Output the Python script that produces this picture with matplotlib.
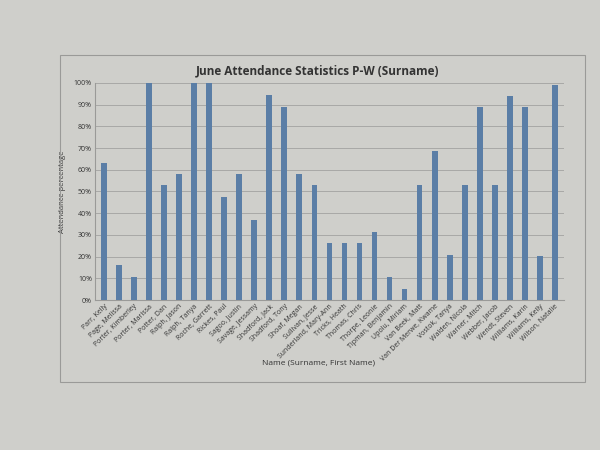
import matplotlib
matplotlib.use("Agg")
import matplotlib.pyplot as plt
from matplotlib.patches import Rectangle

names = ["Parr, Kelly", "Page, Melissa", "Porter, Kimberley", "Porter, Marissa",
         "Potter, Dan", "Ralph, Jason", "Ralph, Tanya", "Roche, Garrett",
         "Rickes, Paul", "Sagoo, Justin", "Savage, Jessamy", "Shadford, Jack",
         "Shadford, Tony", "Shoaf, Megan", "Sullivan, Jesse", "Sunderland, Mary-Ann",
         "Tricks, Heath", "Thomas, Chris", "Thorpe, Leonie", "Tipman, Benjamin",
         "Upolu, Miriam", "Van Beek, Matt", "Van Der Merwe, Kwame", "Vostok, Tanya",
         "Walden, Nicola", "Warner, Mitch", "Webber, Jacob", "Wendt, Steven",
         "Williams, Karin", "Williams, Kelly", "Wilson, Natalie"]
attendance = [63, 16, 10.5, 100, 53, 58, 100, 100, 47.5, 58, 37, 94.5, 89, 58, 53,
              26.5, 26.5, 26.5, 31.5, 10.5, 5, 53, 68.5, 21, 53, 89, 53, 94, 89,
              20.5, 99]
yticks = [0, 10, 20, 30, 40, 50, 60, 70, 80, 90, 100]

paper = "#cfcfcb"
plt.rcParams['font.family'] = ['Open Sans', 'DejaVu Sans']

fig = plt.figure(figsize=(6, 4.5), dpi=100, facecolor=paper)
# chart border
fig.patches.append(Rectangle((0.1, 0.151), 0.875, 0.727, transform=fig.transFigure,
                             fill=False, edgecolor="#9a9a98", lw=0.8))

ax = fig.add_axes([0.158, 0.333, 0.782, 0.483], facecolor=paper)
x = range(len(names))
ax.bar(x, attendance, width=0.38, color="#5b7ea6", zorder=3)

ax.set_ylim(0, 100)
ax.set_xlim(-0.6, len(names) - 0.4)
ax.set_yticks(yticks)
ax.set_yticklabels([f"{v}%" for v in yticks], fontsize=5, color="#333333")
ax.yaxis.grid(True, color="#a8a8a6", lw=0.7, zorder=0)
ax.set_xticks(list(x))
ax.set_xticklabels(names, rotation=45, ha="right", rotation_mode="anchor",
                   fontsize=5, color="#333333")
ax.tick_params(axis="both", length=0, pad=2)
for s in ["top", "right"]:
    ax.spines[s].set_visible(False)
ax.spines["left"].set_color("#9a9a98")
ax.spines["bottom"].set_color("#9a9a98")

ax.set_ylabel("Attendance percentage", fontsize=5.5, color="#333333", labelpad=6)
fig.text(0.53, 0.189, "Name (Surname, First Name)", ha="center", fontsize=6,
         color="#333333")
fig.text(0.53, 0.835, "June Attendance Statistics P-W (Surname)", ha="center",
         fontsize=8.5, fontweight="bold", color="#333333")

fig.savefig("out.png", dpi=100, facecolor=paper)
